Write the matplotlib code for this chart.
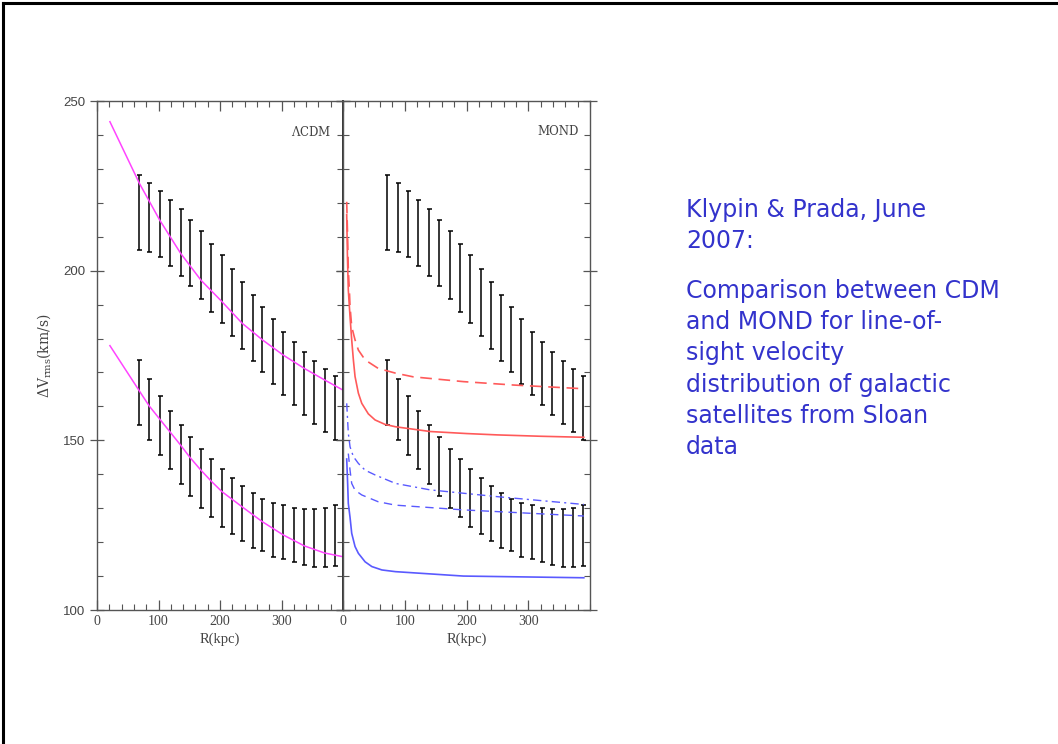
import matplotlib.pyplot as plt
from matplotlib.lines import Line2D
from matplotlib.ticker import MultipleLocator

plt.rcParams["mathtext.fontset"] = "dejavuserif"

# Satellite velocity dispersion bins (kpc) as drawn in each panel
R_LCDM = [69, 85, 102, 119, 136, 152, 169, 186, 203, 220,
          236, 253, 269, 286, 303, 320, 337, 353, 370, 387]
R_MOND = [72, 89, 106, 122, 139, 156, 173, 190, 206, 223,
          240, 256, 272, 288, 306, 322, 339, 356, 372, 389]

# Observed range of dV_rms in each bin: bright (upper) and faint (lower) hosts
UPPER_HI = [228.2, 225.8, 223.6, 220.9, 218.2, 214.8, 211.6, 207.9, 204.7, 200.6,
            196.7, 192.9, 189.2, 185.7, 182.0, 178.9, 175.9, 173.5, 171.0, 169.0]
UPPER_LO = [206.0, 205.6, 203.9, 201.4, 198.3, 195.5, 191.6, 187.9, 184.5, 180.6,
            176.9, 173.4, 170.0, 166.6, 163.4, 160.4, 157.5, 154.8, 152.4, 150.0]
LOWER_HI = [173.7, 168.1, 163.1, 158.6, 154.4, 151.1, 147.4, 144.4, 141.5, 138.8,
            136.5, 134.4, 132.6, 131.6, 130.9, 130.2, 129.9, 129.9, 130.2, 130.9]
LOWER_LO = [154.5, 150.1, 145.7, 141.5, 137.0, 133.6, 130.2, 127.3, 124.6, 122.3,
            120.2, 118.3, 117.3, 115.7, 114.9, 114.0, 113.4, 112.8, 112.8, 113.0]

# LCDM model predictions
LCDM_UP_R = [21, 69, 102, 136, 169, 203, 236, 269, 303, 337, 370, 400]
LCDM_UP_V = [243.9, 225.7, 214.9, 205.1, 197.2, 190.9, 184.5, 179.6, 175.1, 171.2, 167.8, 164.8]
LCDM_LO_R = [21, 68, 85, 135, 151, 168, 185, 203, 236, 269, 303, 337, 370, 400]
LCDM_LO_V = [177.9, 164.8, 160.1, 148.8, 145.0, 141.4, 138.1, 134.9, 130.4, 126.0, 122.1, 118.9, 116.8, 115.7]

# MOND model predictions
RED_DASH_R = [6, 7.6, 8.6, 10.3, 11.4, 14.1, 19.5, 24.9, 35.8, 57, 85, 114, 195, 276, 390]
RED_DASH_V = [220.3, 208.9, 200.2, 194.3, 189.4, 183.5, 179.6, 176.6, 173.7, 171.2,
              169.8, 168.7, 167.3, 166.3, 165.2]
RED_SOLID_R = [6, 7.2, 8.6, 11.4, 14.1, 16.8, 19.5, 24.9, 30.4, 41, 52, 68, 85,
               141, 200, 250, 320, 390]
RED_SOLID_V = [216.5, 204.0, 194.3, 186.4, 179.6, 173.7, 168.8, 163.9, 160.9, 157.8,
               156.0, 154.7, 154.0, 152.6, 152.0, 151.6, 151.2, 150.9]
BLUE_DD_R = [6, 7.6, 8.6, 11.4, 16.8, 24.9, 35.8, 52, 85, 141, 250, 390]
BLUE_DD_V = [160.9, 155.5, 152.1, 148.1, 145.2, 143.2, 141.2, 139.8, 137.3, 135.4, 133.4, 131.1]
BLUE_DASH_R = [8.6, 11.4, 14.1, 19.5, 30.4, 57, 85, 195, 390]
BLUE_DASH_V = [146.1, 141.2, 137.3, 135.3, 133.9, 131.9, 130.9, 129.5, 127.7]
BLUE_SOLID_R = [6, 7.6, 8.6, 11.4, 14.1, 19.5, 24.9, 35.8, 46.7, 63, 85, 195, 390]
BLUE_SOLID_V = [144.5, 136.9, 131.4, 127.3, 122.6, 118.7, 116.7, 114.2, 112.8, 111.8,
                111.3, 110.0, 109.5]

NOTE_HEAD = "Klypin & Prada, June\n2007:"
NOTE_BODY = ("Comparison between CDM\nand MOND for line-of-\nsight velocity\n"
             "distribution of galactic\nsatellites from Sloan\ndata")

SPINE = "#555555"
LABEL = "#444444"
MAGENTA = "#ff44ff"
RED = "#ff5a5a"
BLUE = "#5a5aff"
NOTE_BLUE = "#3333cc"


def style_panel(ax, show_y):
    ax.set_xlim(0, 400)
    ax.set_ylim(100, 250)
    ax.xaxis.set_major_locator(MultipleLocator(100))
    ax.xaxis.set_minor_locator(MultipleLocator(20))
    ax.yaxis.set_major_locator(MultipleLocator(50))
    ax.yaxis.set_minor_locator(MultipleLocator(10))
    ax.tick_params(axis="x", which="major", direction="in", length=7,
                   top=True, color=SPINE, width=0.9)
    ax.tick_params(axis="x", which="minor", direction="in", length=4,
                   top=True, color=SPINE, width=0.8)
    ax.tick_params(axis="y", which="major", direction="inout", length=10,
                   right=True, color=SPINE, width=0.9, labelleft=show_y)
    ax.tick_params(axis="y", which="minor", direction="in", length=4,
                   right=True, color=SPINE, width=0.8)
    ax.set_xticks([0, 100, 200, 300])
    for lab in ax.get_xticklabels():
        lab.set_fontfamily("Liberation Serif")
        lab.set_fontsize(10)
        lab.set_color(LABEL)
    for lab in ax.get_yticklabels():
        lab.set_fontfamily("Liberation Sans")
        lab.set_fontsize(9.5)
        lab.set_color(LABEL)
    for sp in ax.spines.values():
        sp.set_color(SPINE)
        sp.set_linewidth(1.0)
    ax.set_xlabel("R(kpc)", family="Liberation Serif", fontsize=10.5,
                  color=LABEL, labelpad=3)


def draw_bars(ax, r):
    for hi, lo in ((UPPER_HI, UPPER_LO), (LOWER_HI, LOWER_LO)):
        mid = [(h + l) / 2 for h, l in zip(hi, lo)]
        half = [(h - l) / 2 for h, l in zip(hi, lo)]
        ax.errorbar(r, mid, yerr=half, fmt="none", ecolor="black",
                    elinewidth=1.1, capsize=1.8, capthick=1.1)


fig = plt.figure(figsize=(10.58, 7.44), dpi=100)

ax_l = fig.add_axes([97 / 1058, 1 - 610 / 744, 246 / 1058, 509 / 744])
ax_r = fig.add_axes([343 / 1058, 1 - 610 / 744, 247 / 1058, 509 / 744])

# Lambda-CDM panel
draw_bars(ax_l, R_LCDM)
ax_l.plot(LCDM_UP_R, LCDM_UP_V, color=MAGENTA, lw=1.1)
ax_l.plot(LCDM_LO_R, LCDM_LO_V, color=MAGENTA, lw=1.1)
style_panel(ax_l, True)
ax_l.set_ylabel(r"$\Delta$V$_{\rm rms}$(km/s)", family="DejaVu Serif",
                fontsize=10, color=LABEL, labelpad=7)
ax_l.text(0.955, 0.94, r"$\Lambda$CDM", transform=ax_l.transAxes,
          ha="right", va="center", family="DejaVu Serif", fontsize=8.5,
          color=LABEL)

# MOND panel
draw_bars(ax_r, R_MOND)
ax_r.plot(RED_DASH_R, RED_DASH_V, color=RED, lw=1.2, dashes=(7, 4))
ax_r.plot(RED_SOLID_R, RED_SOLID_V, color=RED, lw=1.2)
ax_r.plot(BLUE_DD_R, BLUE_DD_V, color=BLUE, lw=1.0, dashes=(6, 3, 1.5, 3))
ax_r.plot(BLUE_DASH_R, BLUE_DASH_V, color=BLUE, lw=1.0, dashes=(6, 4))
ax_r.plot(BLUE_SOLID_R, BLUE_SOLID_V, color=BLUE, lw=1.2)
style_panel(ax_r, False)
ax_r.text(0.955, 0.94, "MOND", transform=ax_r.transAxes,
          ha="right", va="center", family="DejaVu Serif", fontsize=8.5,
          color=LABEL)

# shared middle edge is drawn darker
ax_l.spines["right"].set_color("#333333")
ax_l.spines["right"].set_linewidth(1.4)

fig.text(686 / 1058, 1 - 198 / 744, NOTE_HEAD, ha="left", va="top",
         family="DejaVu Sans", fontsize=17, color=NOTE_BLUE, linespacing=1.38)
fig.text(686 / 1058, 1 - 279 / 744, NOTE_BODY, ha="left", va="top",
         family="DejaVu Sans", fontsize=17, color=NOTE_BLUE, linespacing=1.38)

# slide border along top and left
fig.add_artist(Line2D([3 / 1058, 1], [1 - 3 / 744, 1 - 3 / 744],
                      transform=fig.transFigure, color="black", lw=2.2))
fig.add_artist(Line2D([3 / 1058, 3 / 1058], [0, 1 - 3 / 744],
                      transform=fig.transFigure, color="black", lw=2.2))

fig.savefig("out.png", dpi=100)
